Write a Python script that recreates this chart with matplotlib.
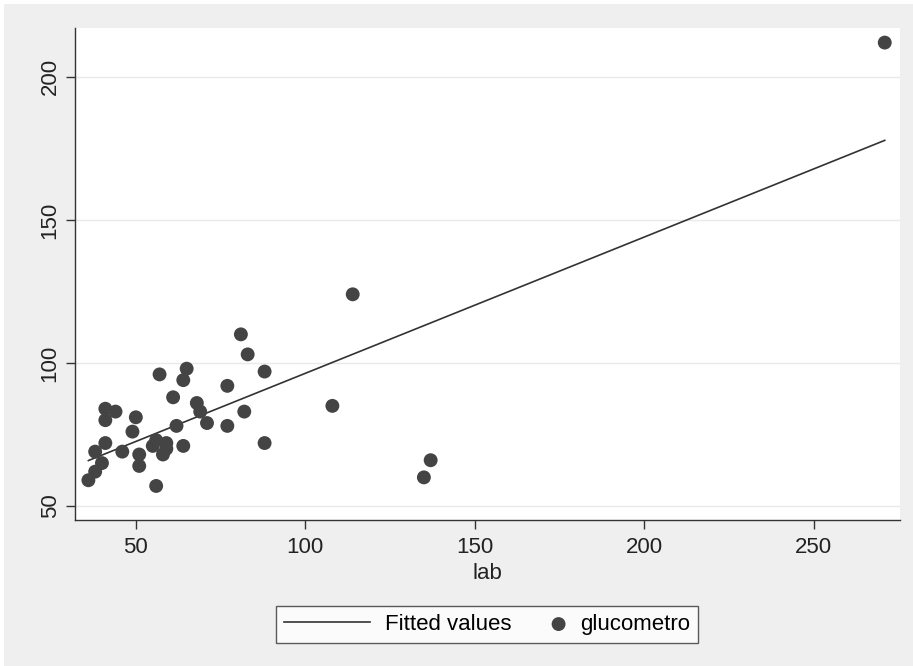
import numpy as np
import matplotlib
matplotlib.use("Agg")
import matplotlib.pyplot as plt
from matplotlib.patches import Rectangle
from matplotlib.legend_handler import HandlerPathCollection

plt.rcParams['font.family'] = ['Liberation Sans', 'DejaVu Sans']

# lab vs glucometro readings
lab = np.array([81, 83, 88, 57, 65, 64, 77, 61, 68, 69, 82, 41, 44, 41, 50, 71, 77, 62,
                49, 41, 88, 56, 55, 59, 59, 58, 38, 46, 51, 51, 40, 38, 36, 56, 64,
                114, 108, 137, 135, 271])
glucometro = np.array([110, 103, 97, 96, 98, 94, 92, 88, 86, 83, 83, 84, 83, 80, 81, 79, 78, 78,
                       76, 72, 72, 73, 71, 72, 70, 68, 69, 69, 68, 64, 65, 62, 59, 57, 71,
                       124, 85, 66, 60, 212])

xticks = [50, 100, 150, 200, 250]
yticks = [50, 100, 150, 200]

# linear fit
b, a = np.polyfit(lab, glucometro, 1)
xs = np.array([lab.min(), lab.max()])
fit = a + b * xs


class RightMarker(HandlerPathCollection):
    # put the marker at the right end of the handle box, next to the text
    def get_xdata(self, legend, xdescent, ydescent, width, height, fontsize):
        x = -xdescent + width - 0.3 * fontsize
        return [x], [x]


fig = plt.figure(figsize=(9.13, 6.66), dpi=100)
fig.patch.set_facecolor('white')
fig.patches.append(Rectangle((4 / 913, 0), 1, 1 - 4 / 666, transform=fig.transFigure,
                             facecolor='#efefef', edgecolor='none', zorder=-10))

ax = fig.add_axes([74.5 / 913, 146 / 666, (900 - 74.5) / 913, (520 - 28) / 666])
ax.set_facecolor('white')

l1, = ax.plot(xs, fit, color='#333333', lw=1.2, zorder=2)
p1 = ax.scatter(lab, glucometro, s=100, color='#444444', edgecolors='none', zorder=3)

ax.set_xlim(31.9, 275.5)
ax.set_ylim(45.1, 217.1)
ax.set_xticks(xticks)
ax.set_yticks(yticks)
ax.grid(axis='y', color='#eaeaea', lw=1.0)
ax.set_axisbelow(True)

for s in ['top', 'right']:
    ax.spines[s].set_visible(False)
for s in ['left', 'bottom']:
    ax.spines[s].set_color('#333333')
    ax.spines[s].set_linewidth(1.0)

ax.tick_params(axis='both', direction='out', length=6.5, width=1.0, color='#333333',
               labelsize=16, labelcolor='#222222')
ax.tick_params(axis='x', pad=5.5)
ax.tick_params(axis='y', pad=3.5)
for lbl in ax.get_yticklabels():
    lbl.set_rotation(90)
    lbl.set_va('center')

ax.set_xlabel('lab', fontsize=16, color='#222222', labelpad=4)

leg = fig.legend([l1, p1], ['Fitted values', 'glucometro'], loc='upper center',
                 bbox_to_anchor=(487 / 913, 1 - 595 / 666), ncol=2, fontsize=16,
                 frameon=True, fancybox=False, handlelength=3.9, columnspacing=-1.5,
                 borderpad=0.35, handletextpad=0.68, scatterpoints=1,
                 handler_map={p1: RightMarker()})
leg.get_frame().set_edgecolor('#333333')
leg.get_frame().set_linewidth(1.0)

fig.savefig('out.png', dpi=100, facecolor=fig.get_facecolor())
